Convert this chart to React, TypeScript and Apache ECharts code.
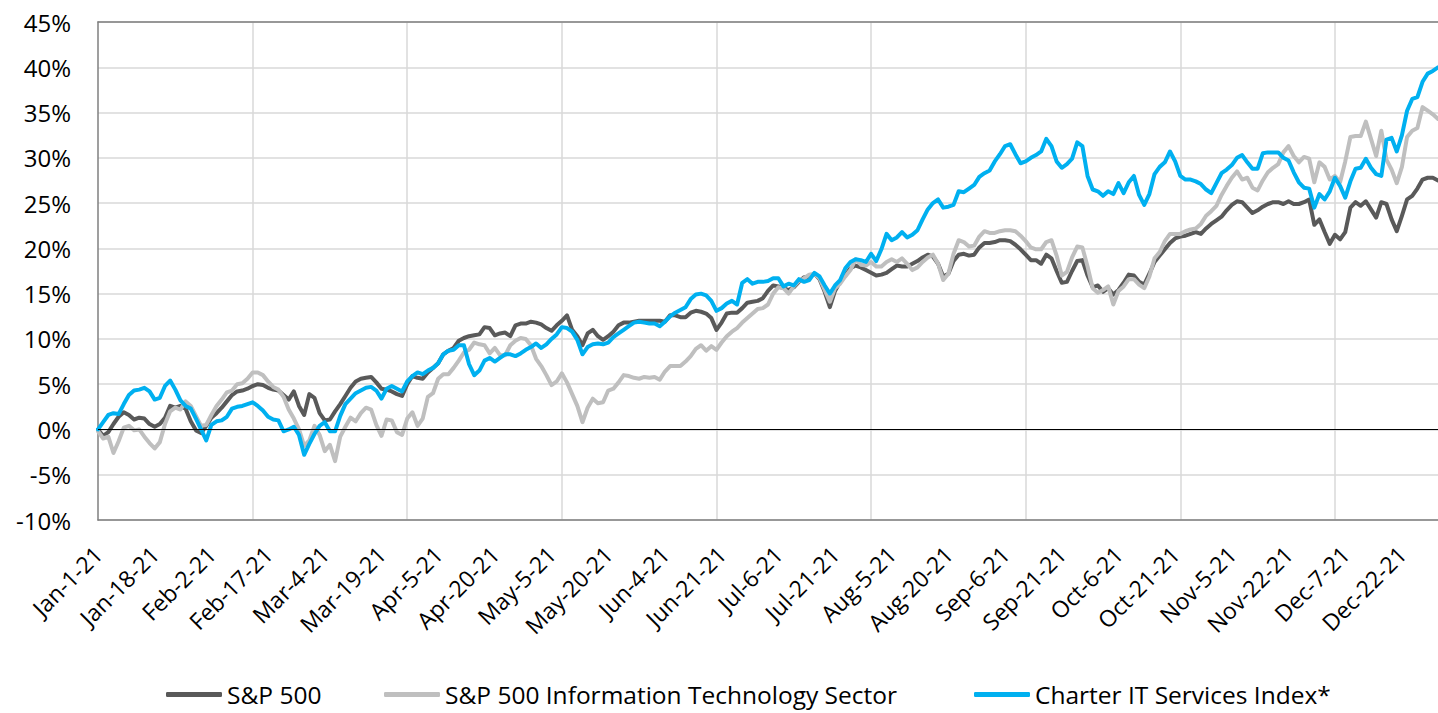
import React, { useEffect, useRef } from "react";
import * as echarts from "echarts";

const MONTHS = ["Jan", "Feb", "Mar", "Apr", "May", "Jun", "Jul", "Aug", "Sep", "Oct", "Nov", "Dec"];

// Weekday (business-day) categories for 2021, labelled like "Jan-1-21"
function buildCategories(): string[] {
  const out: string[] = [];
  const d = new Date(Date.UTC(2021, 0, 1));
  while (d.getUTCFullYear() === 2021) {
    const wd = d.getUTCDay();
    if (wd !== 0 && wd !== 6) out.push(`${MONTHS[d.getUTCMonth()]}-${d.getUTCDate()}-21`);
    d.setUTCDate(d.getUTCDate() + 1);
  }
  return out;
}
const CATEGORIES = buildCategories();

const SERIES_NAMES = ["S&P 500", "S&P 500 Information Technology Sector", "Charter IT Services Index*"];

const SP500 = [
  0, -0.7, -0.3, 0.6, 1.4, 1.9, 1.6, 1.1, 1.3, 1.2,
  0.6, 0.3, 0.6, 1.3, 2.6, 2.4, 2.6, 2.3, 0.9, -0.1,
  -0.4, 0.4, 1.3, 1.8, 2.4, 3.1, 3.8, 4.2, 4.3, 4.5,
  4.8, 5.0, 4.9, 4.6, 4.4, 4.3, 3.8, 3.3, 4.2, 2.6,
  1.6, 3.9, 3.5, 1.8, 1.0, 1.1, 2.0, 2.8, 3.7, 4.6,
  5.3, 5.6, 5.7, 5.8, 5.2, 4.5, 4.4, 4.2, 3.9, 3.7,
  5.0, 5.9, 5.7, 5.6, 6.3, 6.8, 7.3, 8.3, 8.7, 9.0,
  9.8, 10.1, 10.3, 10.4, 10.5, 11.3, 11.2, 10.4, 10.6, 10.7,
  10.3, 11.5, 11.7, 11.7, 11.9, 11.8, 11.6, 11.2, 10.9, 11.5,
  12.0, 12.6, 11.0, 10.3, 9.3, 10.6, 11.0, 10.3, 9.9, 10.3,
  10.8, 11.5, 11.8, 11.8, 11.9, 12.0, 12.0, 12.0, 12.0, 12.0,
  11.9, 12.6, 12.6, 12.4, 12.4, 12.9, 13.1, 13.0, 12.8, 12.3,
  11.0, 11.8, 12.8, 12.9, 12.9, 13.4, 14.0, 14.1, 14.2, 14.5,
  15.3, 15.9, 15.8, 15.6, 15.4, 15.7, 16.3, 16.8, 16.8, 17.2,
  16.6, 15.2, 13.5, 15.3, 16.3, 17.0, 17.8, 18.1, 17.9, 17.6,
  17.3, 17.0, 17.1, 17.3, 17.7, 18.1, 18.0, 18.0, 18.3, 18.6,
  19.0, 19.3, 19.1, 18.3, 16.9, 17.2, 18.6, 19.3, 19.4, 19.2,
  19.3, 20.1, 20.6, 20.6, 20.7, 20.9, 20.9, 20.8, 20.4, 19.9,
  19.3, 18.7, 18.7, 18.3, 19.3, 18.9, 17.5, 16.2, 16.3, 17.5,
  18.6, 18.7, 17.0, 15.7, 15.9, 15.2, 15.6, 14.9, 15.4, 16.2,
  17.1, 17.0, 16.3, 16.0, 17.2, 18.5, 19.2, 19.9, 20.6, 21.1,
  21.3, 21.4, 21.6, 21.8, 21.6, 22.2, 22.7, 23.1, 23.5, 24.2,
  24.8, 25.2, 25.1, 24.5, 23.9, 24.2, 24.6, 24.9, 25.1, 25.1,
  24.9, 25.2, 24.9, 24.9, 25.1, 25.4, 22.6, 23.2, 21.8, 20.5,
  21.5, 21.0, 21.8, 24.5, 25.1, 24.7, 25.2, 24.3, 23.4, 25.1,
  24.9, 23.2, 21.9, 23.6, 25.4, 25.8, 26.6, 27.6, 27.8, 27.8,
  27.5,
];

const IT_SECTOR = [
  -0.2, -1.0, -0.8, -2.6, -1.3, 0.2, 0.4, -0.1, 0.0, -0.8,
  -1.5, -2.1, -1.4, 0.6, 2.0, 2.4, 2.2, 3.1, 2.6, 1.5,
  0.4, 0.5, 1.6, 2.6, 3.3, 4.1, 4.3, 5.0, 5.1, 5.6,
  6.3, 6.3, 6.0, 5.3, 4.7, 4.4, 3.6, 2.2, 1.2, 0.0,
  -1.8, -1.2, 0.4, -0.6, -2.4, -1.7, -3.5, -0.8, 0.3, 1.3,
  0.9, 1.8, 2.4, 2.2, 0.5, -0.7, 1.1, 1.0, -0.3, -0.6,
  1.2, 1.9, 0.4, 1.2, 3.6, 4.0, 5.6, 6.1, 6.1, 6.8,
  7.6, 8.5, 8.8, 9.6, 9.4, 9.3, 8.4, 9.0, 8.2, 8.2,
  9.3, 9.8, 10.1, 10.0, 9.3, 7.8, 7.0, 6.0, 4.9, 5.3,
  6.2, 5.2, 3.9, 2.6, 0.8, 2.4, 3.4, 2.9, 3.0, 4.3,
  4.5, 5.2, 6.0, 5.9, 5.7, 5.6, 5.8, 5.7, 5.8, 5.5,
  6.4, 7.0, 7.0, 7.0, 7.5, 8.1, 8.9, 9.3, 8.7, 9.2,
  8.8, 9.6, 10.3, 10.8, 11.2, 11.8, 12.3, 12.8, 13.3, 13.4,
  13.8, 15.0, 15.7, 15.6, 15.0, 15.8, 16.4, 16.7, 17.1, 17.2,
  16.7, 15.4, 14.1, 15.6, 16.1, 16.9, 17.6, 18.8, 18.2, 18.1,
  18.5, 18.0, 18.0, 18.5, 18.8, 18.5, 18.9, 18.3, 17.6, 17.9,
  18.5, 19.0, 19.3, 18.3, 16.5, 17.2, 19.4, 20.9, 20.7, 20.2,
  20.3, 21.3, 21.9, 21.7, 21.7, 21.9, 22.0, 22.0, 21.9, 21.4,
  20.8, 20.1, 19.9, 19.9, 20.7, 20.9, 19.2, 17.0, 17.4, 19.0,
  20.2, 20.1, 18.0, 15.6, 15.1, 15.4, 15.8, 13.8, 15.3, 15.8,
  16.6, 16.6, 16.0, 15.6, 16.9, 18.9, 19.6, 20.8, 21.6, 21.6,
  21.6, 21.9, 22.1, 22.2, 22.7, 23.6, 24.1, 24.7, 25.9, 26.9,
  27.8, 28.5, 27.6, 27.8, 26.7, 26.4, 27.5, 28.4, 28.9, 29.3,
  30.6, 31.3, 30.2, 29.5, 30.1, 29.9, 27.3, 29.5, 29.0, 27.6,
  28.0, 27.3, 29.6, 32.3, 32.4, 32.4, 34.0, 32.1, 30.2, 33.0,
  29.8, 28.7, 27.2, 29.0, 32.3, 33.0, 33.3, 35.6, 35.2, 34.8,
  34.3,
];

const CHARTER = [
  0, 0.8, 1.6, 1.8, 1.7, 2.8, 3.8, 4.3, 4.4, 4.6,
  4.2, 3.3, 3.5, 4.8, 5.4, 4.4, 3.2, 2.6, 2.3, 1.2,
  0.0, -1.2, 0.5, 0.9, 1.0, 1.4, 2.3, 2.5, 2.6, 2.8,
  3.0, 2.6, 2.1, 1.4, 1.1, 1.0, -0.2, 0.0, 0.3, -0.6,
  -2.8, -1.6, -0.5, 0.4, 0.8, -0.2, -0.2, 1.5, 2.8, 3.4,
  4.0, 4.3, 4.6, 4.7, 4.3, 3.4, 4.5, 4.8, 4.5, 4.2,
  5.3, 5.9, 6.3, 6.1, 6.5, 6.8, 7.3, 8.3, 8.7, 8.8,
  9.3, 9.3, 7.2, 6.0, 6.5, 7.6, 7.9, 7.5, 7.9, 8.3,
  8.3, 8.1, 8.4, 8.8, 9.1, 9.5, 9.0, 9.4, 10.0, 10.5,
  11.3, 11.2, 10.8, 9.9, 8.3, 9.1, 9.4, 9.5, 9.4, 9.6,
  10.2, 10.6, 11.0, 11.4, 11.8, 11.9, 11.8, 11.7, 11.7, 11.4,
  11.9, 12.5, 12.9, 13.2, 13.5, 14.4, 14.9, 15.0, 14.8, 14.2,
  13.1, 13.4, 13.9, 14.2, 13.8, 16.2, 16.6, 16.1, 16.3, 16.3,
  16.4, 16.7, 16.7, 15.8, 16.1, 15.9, 16.6, 16.3, 16.5, 17.3,
  16.9, 15.9, 15.0, 15.9, 16.5, 17.8, 18.5, 18.8, 18.7, 18.5,
  19.4, 18.6, 19.9, 21.6, 20.9, 21.2, 21.8, 21.2, 21.5, 22.0,
  23.2, 24.3, 25.0, 25.4, 24.5, 24.6, 24.8, 26.3, 26.2, 26.6,
  27.0, 27.9, 28.3, 28.6, 29.6, 30.4, 31.3, 31.5, 30.4, 29.4,
  29.6, 30.0, 30.3, 30.7, 32.1, 31.3, 29.6, 28.9, 29.3, 29.9,
  31.7, 31.3, 28.0, 26.5, 26.3, 25.8, 26.3, 26.0, 27.2, 26.1,
  27.3, 28.0, 25.9, 24.8, 26.0, 28.2, 29.0, 29.5, 30.7, 29.6,
  28.0, 27.6, 27.6, 27.4, 27.1, 26.5, 26.1, 27.2, 28.3, 28.7,
  29.2, 30.0, 30.3, 29.5, 28.8, 28.8, 30.5, 30.6, 30.6, 30.6,
  30.0, 29.7, 28.4, 27.3, 26.7, 26.6, 24.5, 26.0, 25.4, 26.3,
  27.8, 26.9, 25.6, 27.4, 28.8, 28.9, 29.9, 28.9, 28.2, 28.0,
  32.0, 32.2, 30.7, 32.5, 35.2, 36.5, 36.7, 38.4, 39.3, 39.6,
  40.0,
];

const Y_MIN = -10;
const Y_MAX = 45;
const Y_STEP = 5;
const LABEL_EVERY = 11;
const GRID_EVERY = 30;

const COLORS = ["#595959", "#BFBFBF", "#00B0F0"];
const LEGEND_LEFTS = [166, 384, 974];
const FONT = "'Open Sans', 'Noto Sans', sans-serif";

export default function App() {
  const ref = useRef<HTMLDivElement>(null);

  useEffect(() => {
    if (!ref.current) return;
    const chart = echarts.init(ref.current, undefined, { renderer: "svg" });
    const values = [SP500, IT_SECTOR, CHARTER];
    chart.setOption({
      animation: false,
      backgroundColor: "#ffffff",
      grid: { left: 98, right: 0, top: 22, bottom: 193, containLabel: false },
      legend: SERIES_NAMES.map((name, k) => ({
        data: [name],
        left: LEGEND_LEFTS[k],
        top: 682,
        padding: 0,
        itemWidth: 56,
        itemHeight: 5,
        icon: "roundRect",
        textStyle: { fontFamily: FONT, fontSize: 24.5, lineHeight: 24, color: "#000" },
      })),
      xAxis: [
        {
          type: "category",
          data: CATEGORIES,
          boundaryGap: false,
          axisLine: { show: true, onZero: false, lineStyle: { color: "#7F7F7F", width: 1.5 } },
          axisTick: { show: false },
          axisLabel: {
            interval: LABEL_EVERY - 1,
            rotate: 45,
            margin: 30,
            fontFamily: FONT,
            fontSize: 23,
            color: "#000",
          },
          splitLine: {
            show: true,
            interval: (index: number) => index > 0 && index % GRID_EVERY === 0,
            lineStyle: { color: "#D9D9D9", width: 1.5 },
          },
        },
        {
          type: "category",
          data: CATEGORIES,
          boundaryGap: false,
          position: "top",
          axisLine: { show: true, onZero: false, lineStyle: { color: "#7F7F7F", width: 1.5 } },
          axisTick: { show: false },
          axisLabel: { show: false },
          splitLine: { show: false },
        },
      ],
      yAxis: {
        type: "value",
        min: Y_MIN,
        max: Y_MAX,
        interval: Y_STEP,
        axisLine: { show: true, lineStyle: { color: "#7F7F7F", width: 1.5 } },
        axisTick: { show: false },
        axisLabel: {
          formatter: "{value}%",
          margin: 27,
          fontFamily: FONT,
          fontSize: 24,
          color: "#000",
        },
        splitLine: { show: true, lineStyle: { color: "#D9D9D9", width: 1.5 } },
      },
      series: SERIES_NAMES.map((name, k) => ({
        name,
        type: "line",
        data: values[k],
        symbol: "none",
        showSymbol: false,
        lineStyle: { color: COLORS[k], width: 4, cap: "round", join: "round" },
        itemStyle: { color: COLORS[k] },
        z: 2 + k,
        markLine:
          k === 0
            ? {
                silent: true,
                symbol: "none",
                label: { show: false },
                lineStyle: { color: "#000", width: 1.2, type: "solid" },
                data: [{ yAxis: 0 }],
              }
            : undefined,
      })),
    });
    return () => chart.dispose();
  }, []);

  return (
    <div
      ref={ref}
      style={{ position: "fixed", left: 0, top: 0, width: 1438, height: 713, background: "#fff" }}
    />
  );
}
